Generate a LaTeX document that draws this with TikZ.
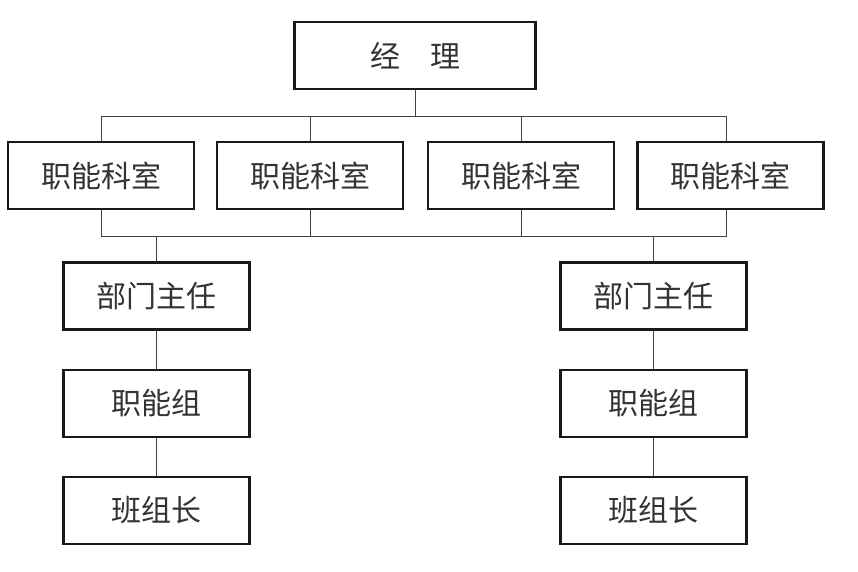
\documentclass[tikz,border=0pt]{standalone}
\usepackage{fontspec}
\newfontfamily\cjk{Noto Sans CJK SC}
\begin{document}
\begin{tikzpicture}[x=1pt,y=-1pt,
  box/.style={draw=black!90,line width=2.2pt,fill=white,minimum width=186pt,minimum height=67pt,inner sep=0pt,font=\cjk\fontsize{30}{32}\selectfont,text=black!80},
  link/.style={draw=black!75,line width=0.9pt}]
\useasboundingbox (0,0) rectangle (858,571);
\node[box,minimum width=241pt] (top) at (415,55.5) {经\hspace{30pt}理};
\node[box] (k1) at (101,175.5) {职能科室};
\node[box] (k2) at (310,175.5) {职能科室};
\node[box] (k3) at (521,175.5) {职能科室};
\node[box] (k4) at (730.5,175.5) {职能科室};
\node[box] (b1) at (156.5,296) {部门主任};
\node[box] (b2) at (653.5,296) {部门主任};
\node[box] (z1) at (156.5,403.5) {职能组};
\node[box] (z2) at (653.5,403.5) {职能组};
\node[box] (c1) at (156.5,510.5) {班组长};
\node[box] (c2) at (653.5,510.5) {班组长};
\coordinate (t1) at (101,116);
\coordinate (t4) at (726,116);
\coordinate (u1) at (101,236);
\coordinate (u4) at (726,236);
\draw[link] (top.south) -- (top.south |- t1);
\draw[link] (k1.north) -- (t1) -- (t4) -- (t4 |- k4.north);
\draw[link] (k2.north) -- (k2.north |- t1);
\draw[link] (k3.north) -- (k3.north |- t1);
\draw[link] (k1.south) -- (u1) -- (u4) -- (u4 |- k4.south);
\draw[link] (k2.south) -- (k2.south |- u1);
\draw[link] (k3.south) -- (k3.south |- u1);
\draw[link] (b1.north |- u1) -- (b1.north);
\draw[link] (b2.north |- u1) -- (b2.north);
\draw[link] (b1) -- (z1);
\draw[link] (z1) -- (c1);
\draw[link] (b2) -- (z2);
\draw[link] (z2) -- (c2);
\end{tikzpicture}
\end{document}
